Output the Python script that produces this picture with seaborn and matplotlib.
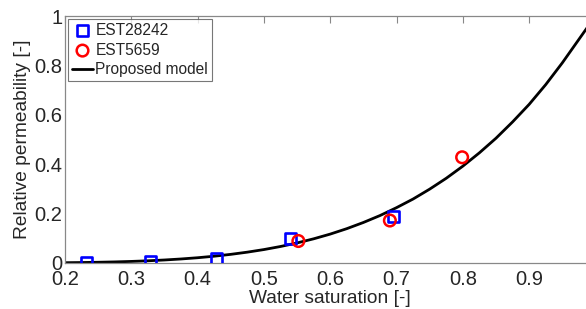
import matplotlib
matplotlib.use("Agg")
import matplotlib.pyplot as plt
import seaborn as sns
import pandas as pd

# Measured data
est28242_sw = [0.232, 0.329, 0.428, 0.540, 0.696]
est28242_kr = [0.001, 0.005, 0.018, 0.101, 0.188]
est5659_sw = [0.552, 0.690, 0.799]
est5659_kr = [0.089, 0.172, 0.428]

# Model curve
model_sw = [0.2, 0.225, 0.25, 0.275, 0.3, 0.325, 0.35, 0.375, 0.4, 0.425, 0.45,
            0.475, 0.5, 0.525, 0.55, 0.575, 0.6, 0.625, 0.65, 0.675, 0.7, 0.725,
            0.75, 0.775, 0.8, 0.825, 0.85, 0.875, 0.9, 0.925, 0.95, 0.975, 1.0]
model_kr = [0.0012, 0.0019, 0.0030, 0.0044, 0.0064, 0.0089, 0.0122, 0.0163, 0.0213,
            0.0275, 0.0350, 0.0439, 0.0544, 0.0668, 0.0812, 0.0979, 0.117, 0.139,
            0.164, 0.192, 0.224, 0.259, 0.299, 0.343, 0.392, 0.446, 0.505, 0.571,
            0.642, 0.722, 0.810, 0.905, 1.0]

x_ticks = [0.2, 0.3, 0.4, 0.5, 0.6, 0.7, 0.8, 0.9]
x_labels = ["0.2", "0.3", "0.4", "0.5", "0.6", "0.7", "0.8", "0.9"]
y_ticks = [0, 0.2, 0.4, 0.6, 0.8, 1.0]
y_labels = ["0", "0.2", "0.4", "0.6", "0.8", "1"]

sns.set_style("white")
plt.rcParams['font.family'] = ['Liberation Sans', 'DejaVu Sans']

fig = plt.figure(figsize=(5.86, 3.09), dpi=100)
ax = fig.add_axes([65/586, 46/309, 530.4/586, 247/309])

df1 = pd.DataFrame({"sw": est28242_sw, "kr": est28242_kr})
df2 = pd.DataFrame({"sw": est5659_sw, "kr": est5659_kr})
dfm = pd.DataFrame({"sw": model_sw, "kr": model_kr})

sns.scatterplot(data=df1, x="sw", y="kr", ax=ax, marker="s", s=62,
                facecolor="none", edgecolor="#0000ff", linewidth=1.9,
                label="EST28242", zorder=3)
sns.scatterplot(data=df2, x="sw", y="kr", ax=ax, marker="o", s=70,
                facecolor="none", edgecolor="#ff0000", linewidth=1.8,
                label="EST5659", zorder=3)
sns.lineplot(data=dfm, x="sw", y="kr", ax=ax, color="black", linewidth=2.0,
             label="Proposed model", zorder=2)

ax.set_xlim(0.2, 1.0)
ax.set_ylim(0, 1)
ax.set_xticks(x_ticks)
ax.set_xticklabels(x_labels)
ax.set_yticks(y_ticks)
ax.set_yticklabels(y_labels)
ax.tick_params(direction="in", length=5, width=0.8, color="#888888",
               labelsize=14.5, top=True, right=True)
ax.tick_params(axis="x", pad=5)
ax.tick_params(axis="y", pad=2)
for sp in ax.spines.values():
    sp.set_color("#888888")
    sp.set_linewidth(0.9)

ax.set_xlabel("Water saturation [-]", fontsize=13.8, labelpad=1)
ax.set_ylabel("Relative permeability [-]", fontsize=13.8, labelpad=2)

leg = ax.legend(loc="upper left", fontsize=11.2, frameon=True, fancybox=False,
                borderpad=0.25, handlelength=1.35, handletextpad=0.15,
                labelspacing=0.3, borderaxespad=0.2)
leg.get_frame().set_edgecolor("#555555")
leg.get_frame().set_linewidth(0.8)

fig.savefig("out.png", dpi=100)
